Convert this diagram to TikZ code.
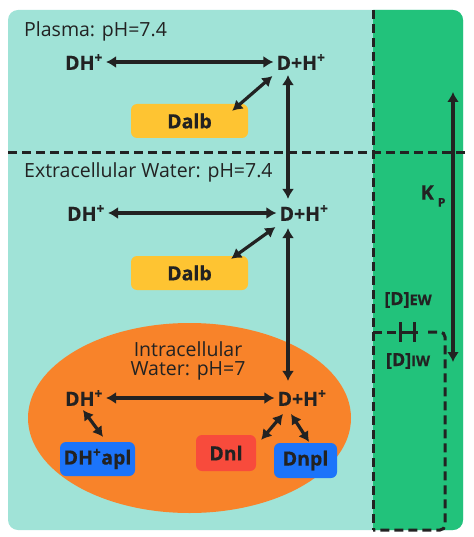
\documentclass[tikz,border=0pt]{standalone}
\usepackage{fontspec}
\setmainfont{Open Sans}[BoldFeatures={FakeBold=0.6}]
\usetikzlibrary{arrows.meta,shapes.geometric}
\definecolor{bgteal}{HTML}{A0E3D7}
\definecolor{bggreen}{HTML}{22C27B}
\definecolor{cellorange}{HTML}{F8832A}
\definecolor{albyellow}{HTML}{FEC432}
\definecolor{nlred}{HTML}{F84B3C}
\definecolor{plblue}{HTML}{1C74FA}
\definecolor{ink}{HTML}{222222}
\begin{document}
\begin{tikzpicture}[x=1pt,y=-1pt,
  lbl/.style={font=\fontsize{19.5}{22}\selectfont\bfseries, text=ink, inner sep=3pt},
  region/.style={font=\fontsize{19.5}{23}\selectfont, text=ink, inner sep=0pt},
  box/.style={rounded corners=6pt, font=\fontsize{19.5}{22}\selectfont\bfseries, text=ink, inner sep=0pt},
  arr/.style={line width=3.2pt, draw=ink, {Latex[length=10pt,width=12pt]}-{Latex[length=10pt,width=12pt]}},
  dsh/.style={line width=3pt, draw=ink, dash pattern=on 9pt off 5pt},
  solidln/.style={line width=3pt, draw=ink}]
\useasboundingbox (0,0) rectangle (473,537);
% backgrounds
\fill[bgteal, rounded corners=10pt] (8,10) rectangle (463,530);
\begin{scope}
  \clip[rounded corners=10pt] (8,10) rectangle (463,530);
  \fill[bggreen] (373,0) rectangle (473,537);
\end{scope}
\fill[cellorange] (189.5,418) ellipse [x radius=161.5pt, y radius=95pt];
% dashed separators
\draw[dsh] (373,10) -- (373,530);
\draw[dsh] (8,153) -- (465,153);
% intracellular dashed box with membrane symbol
\draw[dsh] (373,332) -- (400,332);
\draw[solidln] (400,332) -- (418,332);
\draw[solidln] (400,322) -- (400,342);
\draw[solidln] (414,322) -- (414,342);
\draw[dsh, rounded corners=5pt] (428,332) -- (445,332) -- (445,530) -- (373,530);
% region titles
\node[region, anchor=west] (tplasma) at (24,31) {Plasma: pH=7.4};
\node[region, anchor=west] (tew) at (24,172) {Extracellular Water: pH=7.4};
\node[region, align=center, font=\fontsize{19.5}{19}\selectfont] (tiw) at (188,361) {Intracellular\\Water: pH=7};
% plasma row
\node[lbl] (dh1) at (84,62) {DH\textsuperscript{+}};
\node[lbl] (dph1) at (301,62) {D+H\textsuperscript{+}};
\node[box, fill=albyellow, minimum width=117pt, minimum height=34pt] (dalb1) at (189.5,121) {Dalb};
% EW row
\node[lbl] (dh2) at (86,213) {DH\textsuperscript{+}};
\node[lbl] (dph2) at (304,213) {D+H\textsuperscript{+}};
\node[box, fill=albyellow, minimum width=117pt, minimum height=34pt] (dalb2) at (189.5,273) {Dalb};
% IW row
\node[lbl] (dh3) at (84,398) {DH\textsuperscript{+}};
\node[lbl] (dph3) at (302,398) {D+H\textsuperscript{+}};
\node[box, fill=plblue, minimum width=75pt, minimum height=34pt] (dhapl) at (97.5,459) {DH\textsuperscript{+}apl};
\node[box, fill=nlred, minimum width=60pt, minimum height=36pt] (dnl) at (226,453) {Dnl};
\node[box, fill=plblue, minimum width=63pt, minimum height=35pt] (dnpl) at (305.5,460.5) {Dnpl};
% right column labels
\node[font=\fontsize{20}{22}\selectfont\bfseries, text=ink, inner sep=0pt] (kp) at (433,196) {K\hspace{4pt}\raisebox{-7pt}{\fontsize{12}{12}\selectfont P}};
\node[text=ink, inner sep=0pt] (dew) at (408,300) {\fontsize{18}{20}\selectfont\bfseries [D]\fontsize{14.5}{16}\selectfont EW};
\node[text=ink, inner sep=0pt] (diw) at (408,361) {\fontsize{18}{20}\selectfont\bfseries [D]\fontsize{14.5}{16}\selectfont IW};
\coordinate (kptop) at (453,92);
\coordinate (kpbot) at (453,362);
% connectors
\draw[arr] (dh1.east) -- (dph1.west);
\draw[arr] ([shift={(-1,3)}]dph1.south west) -- ([shift={(-16,7)}]dalb1.north east);
\draw[arr] ([shift={(-13,2)}]dph1.south) -- ([shift={(-16,-3)}]dph2.north);
\draw[arr] (dh2.east) -- (dph2.west);
\draw[arr] ([shift={(-1,3)}]dph2.south west) -- ([shift={(-17,3)}]dalb2.north east);
\draw[arr] ([shift={(-16,4)}]dph2.south) -- ([shift={(-14,-6)}]dph3.north);
\draw[arr] (dh3.east) -- (dph3.west);
\draw[arr] ([shift={(-1,1)}]dh3.south) -- ([shift={(5.5,-5)}]dhapl.north);
\draw[arr] ([shift={(-19,5)}]dph3.south) -- ([shift={(5,5)}]dnl.north east);
\draw[arr] ([shift={(-11,5)}]dph3.south) -- ([shift={(3.5,-1)}]dnpl.north);
\draw[arr] (kptop) -- (kpbot);
\end{tikzpicture}
\end{document}
